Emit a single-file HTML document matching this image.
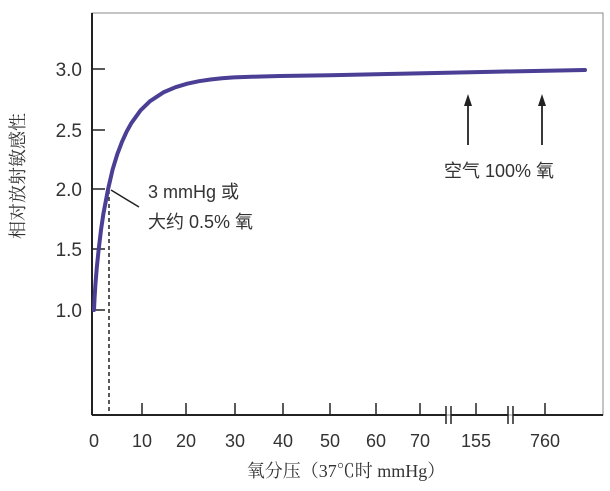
<!DOCTYPE html>
<html><head><meta charset="utf-8"><style>
html,body{margin:0;padding:0;background:#fff;}
svg{display:block;}
text{font-family:"Liberation Sans","Noto Sans CJK SC",sans-serif;fill:#333;}
.s{font-family:"Liberation Serif","Noto Serif CJK SC",serif;}
</style></head><body>
<svg width="610" height="491" viewBox="0 0 610 491" xmlns="http://www.w3.org/2000/svg">
<rect x="92" y="13" width="511" height="402" fill="none" stroke="#888" stroke-width="1"/>
<line x1="92" y1="13" x2="92" y2="415" stroke="#222" stroke-width="2"/>
<g stroke="#222" stroke-width="1.5">
<line x1="92" y1="69" x2="105" y2="69"/>
<line x1="92" y1="130" x2="105" y2="130"/>
<line x1="92" y1="189" x2="105" y2="189"/>
<line x1="92" y1="249" x2="105" y2="249"/>
<line x1="92" y1="310" x2="105" y2="310"/>
<line x1="92" y1="415" x2="446" y2="415" stroke-width="2"/>
<line x1="451" y1="415" x2="508" y2="415" stroke-width="2"/>
<line x1="513" y1="415" x2="603" y2="415" stroke-width="2"/>
<line x1="446" y1="406" x2="446" y2="424"/><line x1="451" y1="406" x2="451" y2="424"/>
<line x1="508" y1="406" x2="508" y2="424"/><line x1="513" y1="406" x2="513" y2="424"/>
<line x1="142" y1="403" x2="142" y2="415"/><line x1="186" y1="403" x2="186" y2="415"/>
<line x1="235" y1="403" x2="235" y2="415"/><line x1="283" y1="403" x2="283" y2="415"/>
<line x1="330" y1="403" x2="330" y2="415"/><line x1="376" y1="403" x2="376" y2="415"/>
<line x1="420" y1="403" x2="420" y2="415"/><line x1="476" y1="403" x2="476" y2="415"/>
<line x1="545" y1="403" x2="545" y2="415"/>
</g>
<line x1="109" y1="190" x2="109" y2="415" stroke="#222" stroke-width="1.5" stroke-dasharray="4,3"/>
<polyline fill="none" stroke="#4a3f94" stroke-width="4" stroke-linecap="round" stroke-linejoin="round"
 points="94,310 94.5,299 95.4,284.6 96.8,267.5 98.7,249.2 101,230 103.3,214.3 108,189.5 112.6,169.6 117.3,154.2 122,141.8 126.6,131.7 131.3,123.2 140.6,110.3 150,101.2 163.9,92.1 175.6,87.2 187.2,83.7 199,81.2 210.5,79.5 222,78.3 233.8,77.4 257,76.6 280,76 330,75.2 400,73.8 500,71.6 585,70"/>
<line x1="111" y1="190" x2="139" y2="207" stroke="#222" stroke-width="1.5"/>
<g stroke="#222" stroke-width="1.8"><line x1="468" y1="103" x2="468" y2="145"/><line x1="542" y1="103" x2="542" y2="145"/></g>
<polygon points="468,94 464,106 472,106" fill="#222"/>
<polygon points="542,94 538,106 546,106" fill="#222"/>
<g font-size="19" text-anchor="end">
<text x="82" y="76">3.0</text><text x="82" y="137">2.5</text><text x="82" y="196">2.0</text>
<text x="82" y="256">1.5</text><text x="82" y="317">1.0</text>
</g>
<text x="148" y="198" font-size="18">3 mmHg 或</text>
<text x="148" y="228" font-size="18">大约 0.5% 氧</text>
<text x="444" y="177" font-size="18">空气 100% 氧</text>
<g font-size="18" text-anchor="middle">
<text x="94" y="447">0</text><text x="142" y="447">10</text><text x="186" y="447">20</text>
<text x="235" y="447">30</text><text x="283" y="447">40</text><text x="330" y="447">50</text>
<text x="376" y="447">60</text><text x="420" y="447">70</text><text x="476" y="447">155</text>
<text x="545" y="447">760</text>
</g>
<text class="s" x="346" y="477" font-size="18" text-anchor="middle" fill="#444">氧分压（37℃时 mmHg）</text>
<text class="s" x="0" y="0" font-size="18" text-anchor="middle" fill="#444" transform="translate(24,176) rotate(-90)">相对放射敏感性</text>
</svg>
</body></html>
